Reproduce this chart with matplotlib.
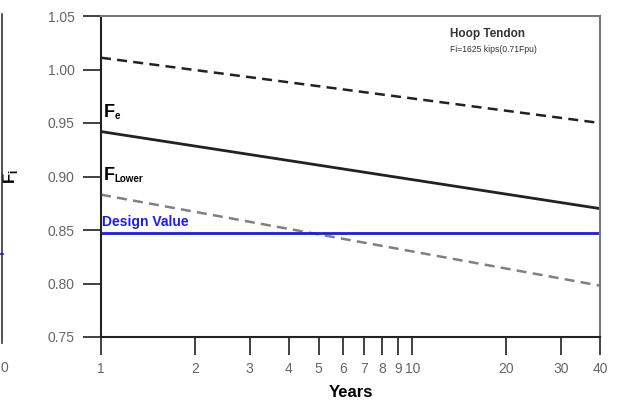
import matplotlib
matplotlib.use('Agg')
import matplotlib.pyplot as plt
from matplotlib.lines import Line2D

plt.rcParams['font.family'] = ['Liberation Sans', 'DejaVu Sans']

# data
years = [1, 40]
upper_bound = [1.011, 0.950]
f_e = [0.942, 0.870]
f_lower = [0.883, 0.798]
design_value = 0.847

x_ticks = [1, 2, 3, 4, 5, 6, 7, 8, 9, 10, 20, 30, 40]
x_labels = ['1', '2', '3', '4', '5', '6', '7', '8', '9', '10', '20', '30', '40']
y_ticks = [0.75, 0.80, 0.85, 0.90, 0.95, 1.00, 1.05]

GRAY_TXT = '#666666'

fig = plt.figure(figsize=(6.17, 4.07), dpi=100)
ax = fig.add_axes([101 / 617, 1 - 337 / 407, 499 / 617, 321 / 407])

ax.plot(years, upper_bound, color='#222222', lw=1.8, dashes=(4, 2.5))
ax.plot(years, f_e, color='#222222', lw=2.0)
ax.plot(years, f_lower, color='#808080', lw=1.8, dashes=(4, 2.5))
ax.axhline(design_value, color='#1a1aff', lw=2.0)

ax.set_xscale('log')
ax.set_xlim(1, 40)
ax.set_ylim(0.75, 1.05)
ax.set_xticks(x_ticks)
ax.set_xticklabels(x_labels)
ax.xaxis.set_minor_locator(matplotlib.ticker.NullLocator())
ax.set_yticks(y_ticks)
ax.set_yticklabels([f'{v:.2f}' for v in y_ticks])

ax.tick_params(axis='both', direction='out', length=13, width=1.3,
               labelsize=10, labelcolor=GRAY_TXT, color='#333333')
ax.tick_params(axis='y', pad=6)
ax.tick_params(axis='x', pad=5)

for side in ['left', 'bottom']:
    ax.spines[side].set_color('#222222')
    ax.spines[side].set_linewidth(1.5)
for side in ['top', 'right']:
    ax.spines[side].set_color('#777777')
    ax.spines[side].set_linewidth(1.5)

ax.set_xlabel('Years', fontsize=12, fontweight='bold')
ax.xaxis.set_label_coords(0.5, -0.15)
ax.set_ylabel('F$_{\\mathregular{i}}$', fontsize=12, fontweight='bold')
ax.yaxis.set_label_coords(-0.162, 0.5)

# curve labels
ax.text(1.02, 0.952, 'F', fontsize=13, fontweight='bold', va='bottom')
ax.text(1.105, 0.952, 'e', fontsize=7, fontweight='bold', va='bottom')
ax.text(1.02, 0.893, 'F', fontsize=13, fontweight='bold', va='bottom')
ax.text(1.105, 0.893, 'Lower', fontsize=7, fontweight='bold', va='bottom')
ax.text(1.01, 0.851, 'Design Value', fontsize=10, fontweight='bold',
        color='#1a1aff', va='bottom')

# case box text
ax.text(0.70, 0.945, 'Hoop Tendon', transform=ax.transAxes, fontsize=8.5,
        fontweight='bold', color='#333333', va='center')
ax.text(0.70, 0.895, 'Fi=1625 kips(0.71Fpu)', transform=ax.transAxes,
        fontsize=6.2, color='#333333', va='center')

# cropped-off neighbour panel at the left edge
fig.add_artist(Line2D([2 / 617, 2 / 617], [1 - 14 / 407, 1 - 343 / 407],
                      color='#333333', lw=1.2))
fig.add_artist(Line2D([0, 3 / 617], [1 - 254 / 407, 1 - 254 / 407],
                      color='#1a1aff', lw=1.2))
fig.text(4 / 617, 1 - 368 / 407, '0', fontsize=10, color=GRAY_TXT,
         ha='center', va='center')

fig.savefig('out.png', dpi=100)
